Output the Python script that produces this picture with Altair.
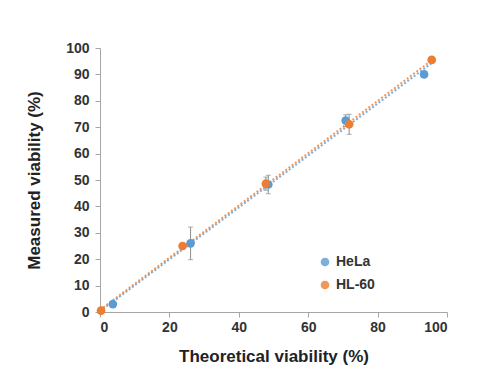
import altair as alt
import pandas as pd

series = ["HeLa", "HeLa", "HeLa", "HeLa", "HeLa", "HL-60", "HL-60", "HL-60", "HL-60", "HL-60"]
theoretical = [3.7, 26.1, 48.5, 70.8, 93.4, 0.3, 23.8, 47.8, 71.8, 95.6]
measured = [3.0, 26.0, 48.3, 72.5, 90.0, 0.5, 25.0, 48.6, 71.1, 95.5]
error = [0.8, 6.2, 3.5, 2.2, 1.0, 0.4, 1.0, 2.5, 3.8, 0.6]

df = pd.DataFrame({"series": series, "x": theoretical, "y": measured, "err": error})
df["lo"] = df["y"] - df["err"]
df["hi"] = df["y"] + df["err"]

colors = alt.Scale(domain=["HeLa", "HL-60"], range=["#5B9BD5", "#ED7D31"])
xs = alt.Scale(domain=[0, 100], nice=False)
ys = alt.Scale(domain=[0, 100], nice=False)

axis_common = dict(
    labelFont="Liberation Sans", labelFontWeight="bold", labelFontSize=14, labelColor="#333333",
    titleFont="Liberation Sans", titleFontWeight="bold", titleFontSize=17, titleColor="#222222",
    domainColor="#A6A6A6", tickColor="#A6A6A6", tickSize=5, grid=False,
)
xaxis = alt.Axis(title="Theoretical viability (%)", values=[0, 20, 40, 60, 80, 100],
                 titlePadding=14, labelPadding=3, **axis_common)
yaxis = alt.Axis(title="Measured viability (%)", values=list(range(0, 101, 10)),
                 titlePadding=22, labelPadding=6, **axis_common)
legend = alt.Legend(title=None, orient="none", legendX=218, legendY=207,
                    symbolType="circle", symbolSize=75, labelFont="Liberation Sans",
                    labelFontWeight="bold", labelFontSize=14, labelColor="#333333",
                    rowPadding=9, symbolStrokeWidth=0)

base = alt.Chart(df)

trend = base.transform_regression("x", "y", groupby=["series"], extent=[0, 96]).mark_line(
    strokeDash=[2, 2], strokeWidth=2, opacity=0.8
).encode(
    x=alt.X("x:Q", scale=xs, axis=xaxis),
    y=alt.Y("y:Q", scale=ys, axis=yaxis),
    color=alt.Color("series:N", scale=colors, legend=legend),
)

err = base.mark_errorbar(ticks=True, color="#8C8C8C", thickness=1).encode(
    x=alt.X("x:Q", scale=xs, axis=xaxis),
    y=alt.Y("lo:Q", scale=ys, axis=yaxis),
    y2="hi:Q",
)

pts = base.mark_circle(size=75, opacity=1).encode(
    x=alt.X("x:Q", scale=xs, axis=xaxis),
    y=alt.Y("y:Q", scale=ys, axis=yaxis),
    color=alt.Color("series:N", scale=colors, legend=legend),
)

chart = alt.layer(trend, err, pts).properties(
    width=347, height=264,
    autosize=alt.AutoSizeParams(type="none"),
    padding={"left": 92, "top": 40, "right": 40, "bottom": 60},
).configure_view(stroke=None)

chart.save("out.html", embed_options={"renderer": "svg", "actions": False})
